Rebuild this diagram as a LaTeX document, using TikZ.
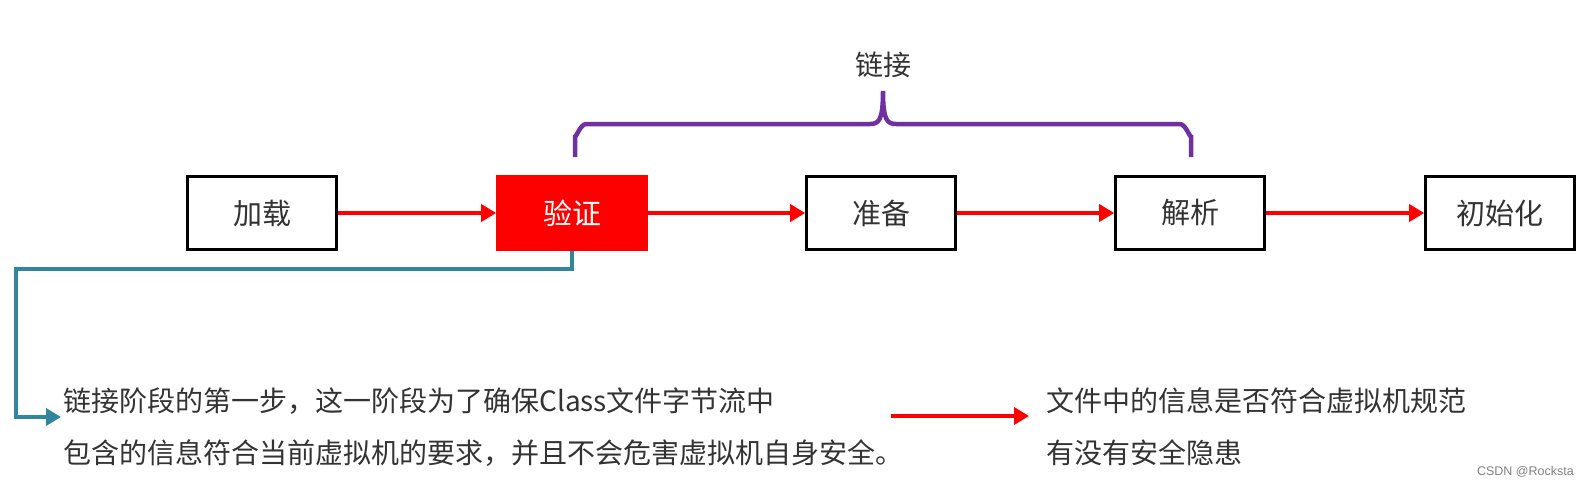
\documentclass[tikz,border=0pt]{standalone}
\usepackage{fontspec}
\newfontfamily\cjk{Noto Sans CJK SC}
\usetikzlibrary{arrows.meta}
\definecolor{tealline}{HTML}{31859C}
\definecolor{purp}{HTML}{7030A0}
\definecolor{txt}{HTML}{333333}
\begin{document}
\begin{tikzpicture}[x=1pt,y=-1pt,
  stagebox/.style={draw=black,line width=2.6pt,minimum width=149pt,minimum height=73pt,inner sep=0pt,font=\cjk\fontsize{29}{34}\selectfont,text=txt},
  redarrow/.style={draw=red,line width=3.6pt,-{Triangle[length=15pt,width=17pt]}},
  tealarrow/.style={draw=tealline,line width=4.5pt,-{Triangle[length=15pt,width=17pt]}},
  brace/.style={draw=purp,line width=4.5pt},
  desc/.style={anchor=west,inner sep=0pt,font=\cjk\fontsize{28}{33}\selectfont,text=txt}]
\path[use as bounding box] (0,0) rectangle (1588,487);
\node[stagebox] (jz) at (262,213) {加载};
\node[stagebox,fill=red,draw=red,text=white] (yz) at (572,213) {验证};
\node[stagebox] (zb) at (881,213) {准备};
\node[stagebox] (jx) at (1190,213) {解析};
\node[stagebox] (csh) at (1500,213) {初始化};
\draw[redarrow] (jz.east) -- (yz.west);
\draw[redarrow] (yz.east) -- (zb.west);
\draw[redarrow] (zb.east) -- (jx.west);
\draw[redarrow] (jx.east) -- (csh.west);
% brace
\draw[brace,line cap=butt] (575,157) -- (575,135) to[out=-90,in=180] (586,124) -- (870,124)
  .. controls (879,124) and (883,120) .. (883,91)
  .. controls (883,120) and (887,124) .. (896,124) -- (1180,124)
  to[out=0,in=-90] (1191,135) -- (1191,157);
\node[font=\cjk\fontsize{28}{33}\selectfont,text=txt] (lj) at (883,65) {链接};
% teal connector
\coordinate (tc) at (16,269);
\coordinate (tend) at (61,417);
\draw[tealarrow] (yz.south) |- (tc) |- (tend);
\node[desc] (l1) at (63,401) {链接阶段的第一步，这一阶段为了确保Class文件字节流中};
\node[desc] (l2) at (63,453) {包含的信息符合当前虚拟机的要求，并且不会危害虚拟机自身安全。};
\coordinate (ra1) at (891,416);
\coordinate (ra2) at (1029,416);
\draw[redarrow] (ra1) -- (ra2);
\node[desc] (r1) at (1046,401) {文件中的信息是否符合虚拟机规范};
\node[desc] (r2) at (1046,453) {有没有安全隐患};
\node[anchor=east,inner sep=0pt,font=\fontspec{Liberation Sans}\fontsize{12.5}{15}\selectfont,text=gray] (wm) at (1574,472) {CSDN @Rocksta};
\end{tikzpicture}
\end{document}
